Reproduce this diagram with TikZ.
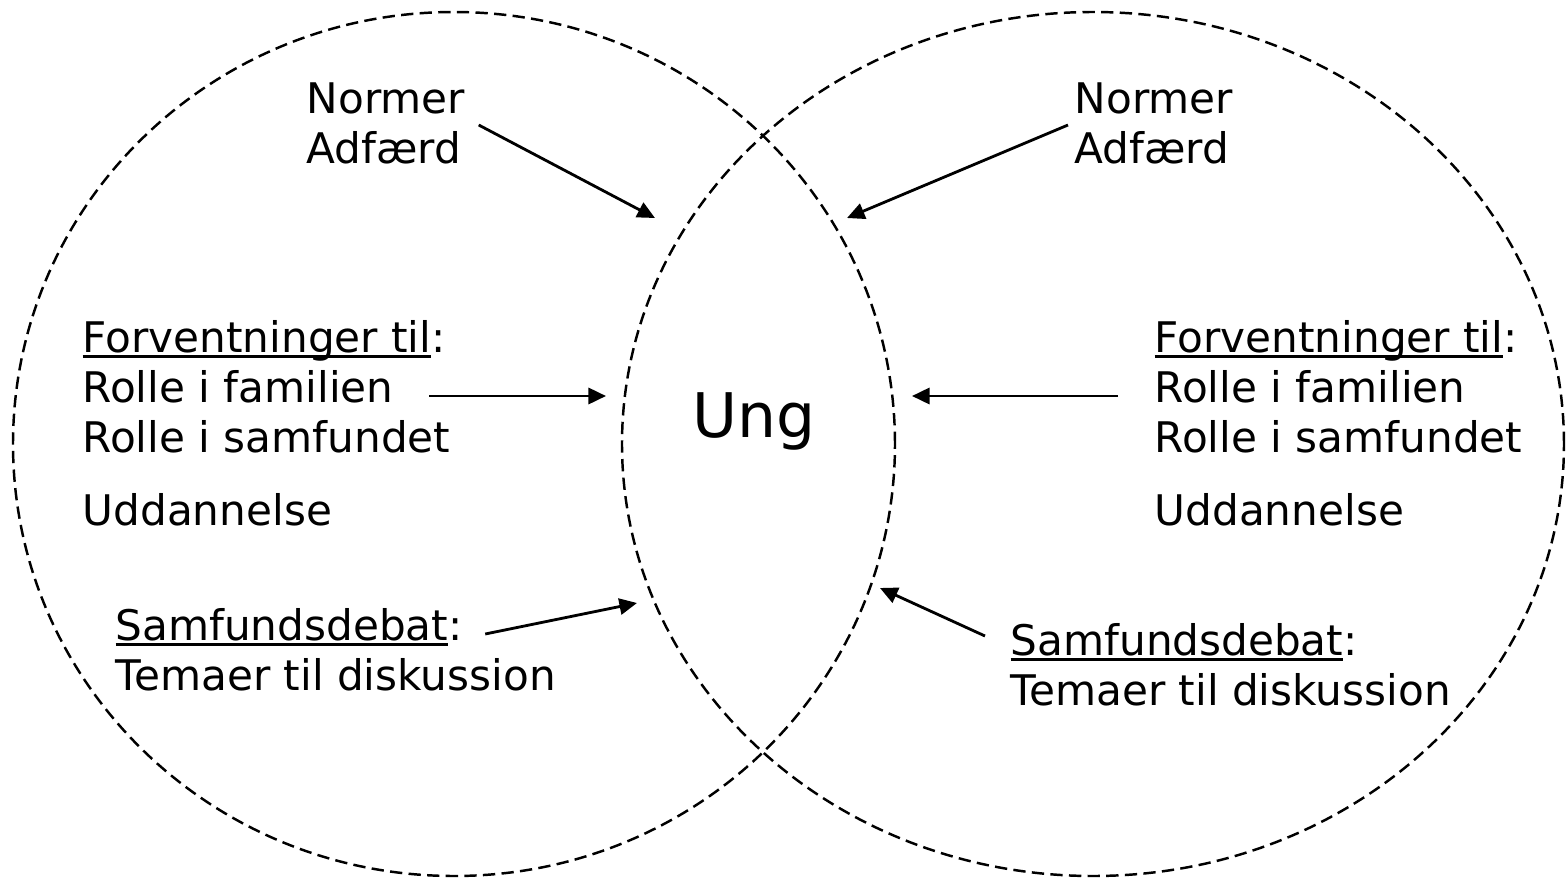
\documentclass[tikz,border=0pt]{standalone}
\usepackage{fontspec}
\setmainfont{DejaVu Sans}
\usepackage{tikz}
\usetikzlibrary{arrows.meta}
\tikzset{txt/.style={inner sep=0pt, anchor=base west, font=\fontsize{12}{14}\selectfont},
         cirkel/.style={draw, dashed, dash pattern=on 3.5pt off 1.8pt, line width=0.7pt},
         pil/.style={-{Triangle[length=5pt,width=4.6pt]}, line width=0.8pt}}
\newcommand{\streg}[1]{\setbox0\hbox{#1}\rlap{\rule[-1.8pt]{\wd0}{0.85pt}}#1}

\begin{document}
\begin{tikzpicture}
            \useasboundingbox (0,0) rectangle (15.66,8.79);
            \draw[cirkel] (4.54,4.35) ellipse (4.41 and 4.32);
            \draw[cirkel] (10.93,4.35) ellipse (4.71 and 4.32);
            \node[anchor=base, inner sep=0pt, font=\fontsize{17.5}{20}\selectfont] (ung) at (7.54,4.42) {Ung};
            % venstre side
            \node[txt] (normer_v) at (3.06,7.66) {Normer};
            \node[txt] (adfaerd_v) at (3.06,7.16) {Adfærd};
            \node[txt] (forv_v) at (0.82,5.27) {\streg{Forventninger til}:};
            \node[txt] (familie_v) at (0.82,4.77) {Rolle i familien};
            \node[txt] (samfund_v) at (0.82,4.27) {Rolle i samfundet};
            \node[txt] (udd_v) at (0.82,3.54) {Uddannelse};
            \node[txt] (debat_v) at (1.15,2.39) {\streg{Samfundsdebat}:};
            \node[txt] (temaer_v) at (1.15,1.89) {Temaer til diskussion};
            % hoejre side
            \node[txt] (normer_h) at (10.74,7.66) {Normer};
            \node[txt] (adfaerd_h) at (10.74,7.16) {Adfærd};
            \node[txt] (forv_h) at (11.54,5.27) {\streg{Forventninger til}:};
            \node[txt] (familie_h) at (11.54,4.77) {Rolle i familien};
            \node[txt] (samfund_h) at (11.54,4.27) {Rolle i samfundet};
            \node[txt] (udd_h) at (11.54,3.54) {Uddannelse};
            \node[txt] (debat_h) at (10.10,2.24) {\streg{Samfundsdebat}:};
            \node[txt] (temaer_h) at (10.10,1.74) {Temaer til diskussion};
            % pilespidser
            \coordinate (spids1) at (6.55,6.61);
            \coordinate (spids2) at (8.47,6.61);
            \coordinate (spids3) at (6.06,4.83);
            \coordinate (spids4) at (9.12,4.83);
            \coordinate (spids5) at (6.37,2.76);
            \coordinate (spids6) at (8.80,2.91);
            \draw[pil] ([shift={(0.13,-0.12)}]normer_v.base east) -- (spids1);
            \draw[pil] ([shift={(-0.06,-0.12)}]normer_h.base west) -- (spids2);
            \draw[pil] ([shift={(0.35,0.06)}]familie_v.base east) -- (spids3);
            \draw[pil] ([shift={(-0.36,0.06)}]familie_h.base west) -- (spids4);
            \draw[pil] ([shift={(0.22,0.06)}]debat_v.base east) -- (spids5);
            \draw[pil] ([shift={(-0.25,0.19)}]debat_h.base west) -- (spids6);
      \end{tikzpicture}
\end{document}
